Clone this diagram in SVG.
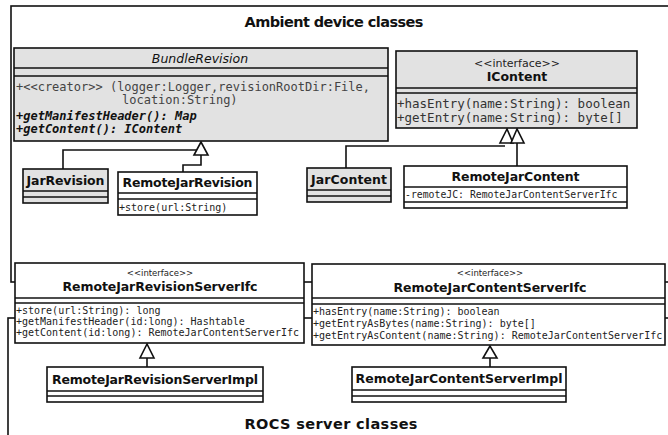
<svg xmlns="http://www.w3.org/2000/svg" width="668" height="435" viewBox="0 0 668 435">
<style>
.frame{fill:none;stroke:#111;stroke-width:1.6}
.box{stroke:#111;stroke-width:1.6}
.g{fill:#e2e2e2}
.w{fill:#fff}
.sep{stroke:#111;stroke-width:1.6}
.cn{font-family:"DejaVu Sans",sans-serif;font-weight:bold;font-size:12.5px;fill:#111;text-anchor:middle}
.st{font-family:"DejaVu Sans",sans-serif;font-size:11px;fill:#222;text-anchor:middle}
.sts{font-family:"DejaVu Sans",sans-serif;font-size:8.5px;fill:#222;text-anchor:middle}
.m{font-family:"DejaVu Sans Mono",monospace;font-size:12px;fill:#444}
.mb{font-family:"DejaVu Sans Mono",monospace;font-size:12px;font-weight:bold;font-style:italic;fill:#111}
.ms{font-family:"DejaVu Sans Mono",monospace;font-size:10px;fill:#222}
.ttl{font-family:"DejaVu Sans",sans-serif;font-weight:bold;font-size:14.5px;fill:#111;text-anchor:middle}
.ln{fill:none;stroke:#111;stroke-width:1.6}
.tri{fill:#fff;stroke:#111;stroke-width:1.6}
</style>
<rect width="668" height="435" fill="#fff"/>
<g id="frames">
<rect class="frame" x="11" y="6" width="680" height="276"/>
<rect class="frame" x="8" y="318" width="690" height="140"/>
<text class="ttl" x="334" y="27" textLength="179">Ambient device classes</text>
<text class="ttl" x="331" y="429" textLength="173">ROCS server classes</text>
</g>
<g id="connectors">
<polyline class="ln" points="63,169 63,150 197,150"/>
<polyline class="ln" points="201,155 201,165 183,165 183,172"/>
<polygon class="tri" points="201,142 194,155 208,155"/>
<polyline class="ln" points="346,168 346,146 505,146"/>
<polyline class="ln" points="517,143 517,166"/>
<polygon class="tri" points="507,129 500,143 513,143"/>
<polygon class="tri" points="517,129 511,143 524,143"/>
<polyline class="ln" points="147,358 147,367"/>
<polygon class="tri" points="147,344 140,358 154,358"/>
<polyline class="ln" points="490,358 490,367"/>
<polygon class="tri" points="490,346 483,358 497,358"/>
</g>
<g id="BundleRevision">
<rect class="box g" x="14" y="48" width="374" height="93"/>
<line class="sep" x1="14" y1="68" x2="388" y2="68"/>
<line class="sep" x1="14" y1="76" x2="388" y2="76"/>
<text class="cn" x="200" y="63" style="font-weight:normal;font-style:italic" font-size="13">BundleRevision</text>
<text class="m" x="16" y="91">+&lt;&lt;creator&gt;&gt; (logger:Logger,revisionRootDir:File,</text>
<text class="m" x="122" y="104">location:String)</text>
<text class="mb" x="16" y="120">+getManifestHeader(): Map</text>
<text class="mb" x="16" y="133">+getContent(): IContent</text>
</g>
<g id="IContent">
<rect class="box g" x="396" y="51" width="241" height="77"/>
<line class="sep" x1="396" y1="88" x2="637" y2="88"/>
<line class="sep" x1="396" y1="93" x2="637" y2="93"/>
<text class="st" x="517" y="67">&lt;&lt;interface&gt;&gt;</text>
<text class="cn" x="517" y="81">IContent</text>
<text class="m" x="397" y="108" style="font-size:12.5px;fill:#333">+hasEntry(name:String): boolean</text>
<text class="m" x="397" y="122" style="font-size:12.5px;fill:#333">+getEntry(name:String): byte[]</text>
</g>
<g id="JarRevision">
<rect class="box g" x="23" y="169" width="85" height="34"/>
<line class="sep" x1="23" y1="191" x2="108" y2="191"/>
<line class="sep" x1="23" y1="197" x2="108" y2="197"/>
<text class="cn" x="65.5" y="185" textLength="78">JarRevision</text>
</g>
<g id="RemoteJarRevision">
<rect class="box w" x="118" y="172" width="139" height="43"/>
<line class="sep" x1="118" y1="193" x2="257" y2="193"/>
<line class="sep" x1="118" y1="199" x2="257" y2="199"/>
<text class="cn" x="187.5" y="187" textLength="130">RemoteJarRevision</text>
<text class="ms" x="119" y="211">+store(url:String)</text>
</g>
<g id="JarContent">
<rect class="box g" x="307" y="168" width="84" height="34"/>
<line class="sep" x1="307" y1="190" x2="391" y2="190"/>
<line class="sep" x1="307" y1="196" x2="391" y2="196"/>
<text class="cn" x="349" y="184" textLength="76">JarContent</text>
</g>
<g id="RemoteJarContent">
<rect class="box w" x="404" y="166" width="223" height="42"/>
<line class="sep" x1="404" y1="187" x2="627" y2="187"/>
<line class="sep" x1="404" y1="202" x2="627" y2="202"/>
<text class="cn" x="515.5" y="181" textLength="128">RemoteJarContent</text>
<text class="ms" x="405" y="198" style="font-size:9.8px">-remoteJC: RemoteJarContentServerIfc</text>
</g>
<g id="RemoteJarRevisionServerIfc">
<rect class="box w" x="15" y="263" width="289" height="80"/>
<line class="sep" x1="15" y1="298" x2="304" y2="298"/>
<line class="sep" x1="15" y1="303" x2="304" y2="303"/>
<text class="sts" x="160" y="276">&lt;&lt;interface&gt;&gt;</text>
<text class="cn" x="160" y="291" textLength="195">RemoteJarRevisionServerIfc</text>
<text class="ms" x="16" y="314">+store(url:String): long</text>
<text class="ms" x="16" y="325">+getManifestHeader(id:long): Hashtable</text>
<text class="ms" x="16" y="336">+getContent(id:long): RemoteJarContentServerIfc</text>
</g>
<g id="RemoteJarContentServerIfc">
<rect class="box w" x="312" y="264" width="353" height="81"/>
<line class="sep" x1="312" y1="298" x2="665" y2="298"/>
<line class="sep" x1="312" y1="304" x2="665" y2="304"/>
<text class="sts" x="490" y="276">&lt;&lt;interface&gt;&gt;</text>
<text class="cn" x="490" y="292" textLength="193">RemoteJarContentServerIfc</text>
<text class="ms" x="313" y="315">+hasEntry(name:String): boolean</text>
<text class="ms" x="313" y="327">+getEntryAsBytes(name:String): byte[]</text>
<text class="ms" x="313" y="339">+getEntryAsContent(name:String): RemoteJarContentServerIfc</text>
</g>
<g id="RemoteJarRevisionServerImpl">
<rect class="box w" x="47" y="367" width="216" height="35"/>
<line class="sep" x1="47" y1="391" x2="263" y2="391"/>
<line class="sep" x1="47" y1="396" x2="263" y2="396"/>
<text class="cn" x="155" y="384" textLength="206">RemoteJarRevisionServerImpl</text>
</g>
<g id="RemoteJarContentServerImpl">
<rect class="box w" x="352" y="367" width="214" height="35"/>
<line class="sep" x1="352" y1="390" x2="566" y2="390"/>
<line class="sep" x1="352" y1="396" x2="566" y2="396"/>
<text class="cn" x="459" y="383" textLength="207">RemoteJarContentServerImpl</text>
</g>
</svg>
